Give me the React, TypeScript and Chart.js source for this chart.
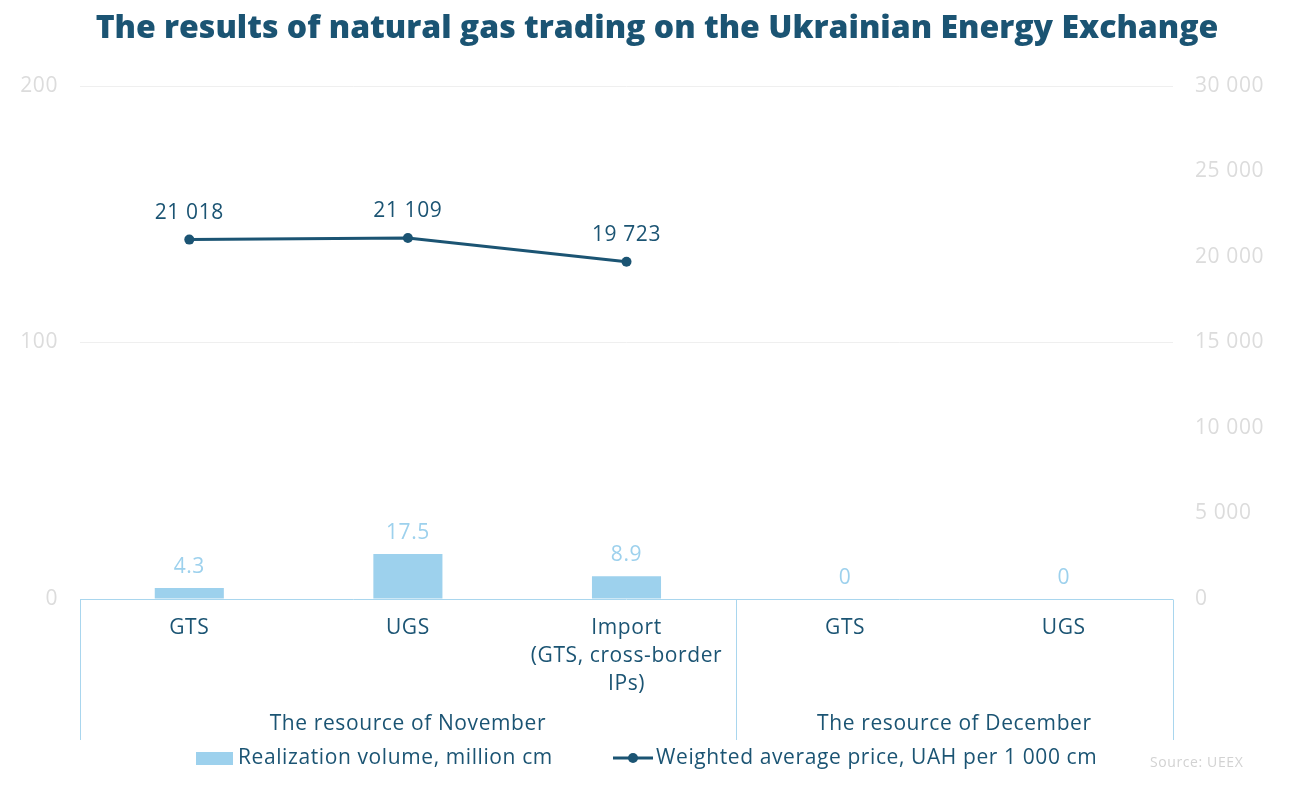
import React, { useEffect, useRef } from "react";
import Chart from "chart.js/auto";

const title = "The results of natural gas trading on the Ukrainian Energy Exchange";
const categoryLines: string[][] = [["GTS"], ["UGS"], ["Import", "(GTS, cross-border", "IPs)"], ["GTS"], ["UGS"]];
const groupLabels = ["The resource of November", "The resource of December"];
const groupSizes = [3, 2];
const volumeLabel = "Realization volume, million cm";
const priceLabel = "Weighted average price, UAH per 1 000 cm";
const volume = [4.3, 17.5, 8.9, 0, 0];
const price: (number | null)[] = [21018, 21109, 19723, null, null];
const leftTicks = { min: 0, max: 200, step: 100 };
const rightTicks = { min: 0, max: 30000, step: 5000 };
const sourceText = "Source: UEEX";

const DARK = "#1b5473";
const BAR = "#9dd1ed";
const AXIS = "#a9d6ee";
const TICK = "#dcdcdc";
const FONT = "'Open Sans', sans-serif";
const SPACING = "0.6px";

const fmt = (n: number) => {
  const s = String(n);
  const [i, d] = s.split(".");
  const ii = i.replace(/\B(?=(\d{3})+(?!\d))/g, " ");
  return d ? ii + "." + d : ii;
};

const spacing = {
  id: "spacing",
  beforeDraw(chart: any) {
    (chart.ctx as any).letterSpacing = SPACING;
  },
};

const overlay = {
  id: "overlay",
  afterDraw(chart: any) {
    const ctx = chart.ctx as CanvasRenderingContext2D;
    const area = chart.chartArea;
    const xs = chart.scales.x;
    ctx.save();
    // title
    (ctx as any).letterSpacing = "0px";
    ctx.fillStyle = DARK;
    ctx.font = `800 32px ${FONT}`;
    ctx.textAlign = "center";
    ctx.textBaseline = "middle";
    ctx.fillText(title, 657, 29);
    (ctx as any).letterSpacing = SPACING;

    // axis line & group boxes
    const yb = Math.round(area.bottom) + 0.5;
    ctx.strokeStyle = AXIS;
    ctx.lineWidth = 1;
    ctx.beginPath();
    ctx.moveTo(area.left, yb);
    ctx.lineTo(area.right, yb);
    const bottomY = 740;
    const bounds: number[] = [area.left];
    let idx = 0;
    groupSizes.forEach((g, gi) => {
      idx += g;
      if (gi < groupSizes.length - 1) {
        bounds.push((xs.getPixelForValue(idx - 1) + xs.getPixelForValue(idx)) / 2);
      }
    });
    bounds.push(area.right);
    bounds.forEach((bx) => {
      const x = Math.round(bx) + 0.5;
      ctx.moveTo(x, yb);
      ctx.lineTo(x, bottomY);
    });
    ctx.stroke();

    // category labels
    ctx.fillStyle = DARK;
    ctx.font = `21px ${FONT}`;
    categoryLines.forEach((lines, i) => {
      const x = xs.getPixelForValue(i);
      lines.forEach((t, li) => ctx.fillText(t, x, 628 + li * 28));
    });
    groupLabels.forEach((g, gi) => {
      ctx.fillText(g, (bounds[gi] + bounds[gi + 1]) / 2, 724);
    });

    // data labels
    const m0 = chart.getDatasetMeta(0);
    ctx.fillStyle = BAR;
    m0.data.forEach((el: any, i: number) => {
      ctx.fillText(fmt(volume[i]), el.x, el.y - 21);
    });
    const m1 = chart.getDatasetMeta(1);
    ctx.fillStyle = DARK;
    m1.data.forEach((el: any, i: number) => {
      const v = price[i];
      if (v == null) return;
      ctx.fillText(fmt(v), el.x, el.y - 27);
    });

    // legend
    const ly = 758;
    ctx.fillStyle = BAR;
    ctx.fillRect(196, ly - 6, 37, 13);
    ctx.fillStyle = DARK;
    ctx.textAlign = "left";
    ctx.fillText(volumeLabel, 238, ly);
    ctx.strokeStyle = DARK;
    ctx.lineWidth = 3;
    ctx.beginPath();
    ctx.moveTo(613, ly);
    ctx.lineTo(653, ly);
    ctx.stroke();
    ctx.beginPath();
    ctx.arc(633, ly, 5, 0, Math.PI * 2);
    ctx.fill();
    ctx.fillText(priceLabel, 656, ly);

    // source
    ctx.fillStyle = "#d2d2d2";
    ctx.font = `14px ${FONT}`;
    ctx.fillText(sourceText, 1150, 763);
    ctx.restore();
  },
};

export default function App() {
  const ref = useRef<HTMLCanvasElement>(null);
  useEffect(() => {
    if (!ref.current) return;
    const chart = new Chart(ref.current, {
      type: "bar",
      data: {
        labels: categoryLines.map((l) => l.join(" ")),
        datasets: [
          {
            type: "bar",
            label: volumeLabel,
            data: volume,
            backgroundColor: BAR,
            yAxisID: "y",
            barPercentage: 0.316,
            categoryPercentage: 1,
            order: 1,
          },
          {
            type: "line",
            label: priceLabel,
            data: price,
            borderColor: DARK,
            backgroundColor: DARK,
            borderWidth: 3,
            pointRadius: 5,
            pointBackgroundColor: DARK,
            pointBorderWidth: 0,
            yAxisID: "y1",
            spanGaps: false,
            order: 0,
          },
        ],
      },
      options: {
        animation: false,
        responsive: true,
        maintainAspectRatio: false,
        layout: { padding: { top: 86, bottom: 188, left: 0, right: 0 } },
        plugins: { legend: { display: false }, title: { display: false }, tooltip: { enabled: false } },
        scales: {
          x: { display: false, offset: true },
          y: {
            position: "left",
            min: leftTicks.min,
            max: leftTicks.max,
            border: { display: false },
            grid: {
              drawTicks: false,
              color: (c: any) => (c.tick && c.tick.value === 0 ? "rgba(0,0,0,0)" : "#efefef"),
            },
            ticks: {
              stepSize: leftTicks.step,
              padding: 22,
              color: TICK,
              font: { family: FONT, size: 21 },
              callback: (v: any) => fmt(Number(v)),
            },
            afterFit: (s: any) => {
              s.width = 80;
            },
          },
          y1: {
            position: "right",
            min: rightTicks.min,
            max: rightTicks.max,
            border: { display: false },
            grid: { display: false, drawTicks: false },
            ticks: {
              stepSize: rightTicks.step,
              padding: 22,
              color: TICK,
              font: { family: FONT, size: 21 },
              callback: (v: any) => fmt(Number(v)),
            },
            afterFit: (s: any) => {
              s.width = 120;
            },
          },
        },
      },
      plugins: [spacing, overlay],
    });
    return () => chart.destroy();
  }, []);
  return (
    <div style={{ position: "absolute", left: 0, top: 0, width: 1293, height: 787, background: "#fff" }}>
      <canvas ref={ref} />
    </div>
  );
}
